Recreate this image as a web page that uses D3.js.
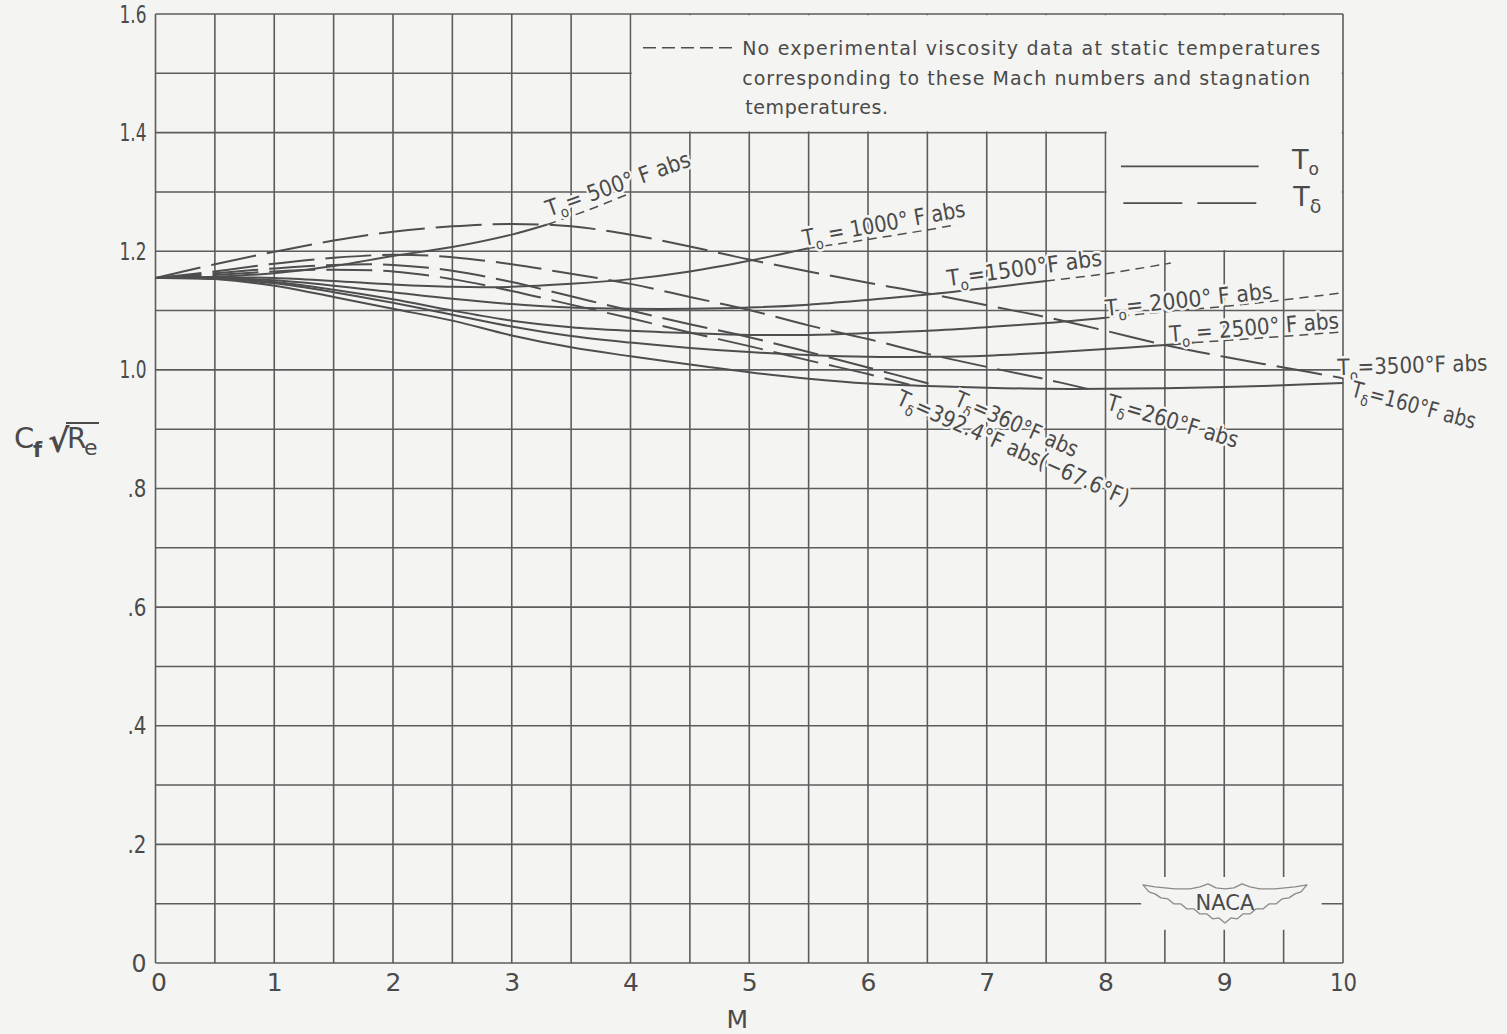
<!DOCTYPE html>
<html><head><meta charset="utf-8">
<script src="https://cdn.jsdelivr.net/npm/d3@7"></script>
<style>
html,body{margin:0;padding:0;background:#f4f4f2;}
svg{display:block;}
text{font-family:"DejaVu Sans",sans-serif;fill:#4a4a4a;}
</style></head><body>
<svg id="chart" width="1507" height="1034"></svg>
<script>
// Axis ticks
const machTicks = [0, 1, 2, 3, 4, 5, 6, 7, 8, 9, 10];
const cfTicks = [0, 0.2, 0.4, 0.6, 0.8, 1.0, 1.2, 1.4, 1.6];
const cfTickLabels = ["0", ".2", ".4", ".6", ".8", "1.0", "1.2", "1.4", "1.6"];

// Constant stagnation temperature T0, [M, Cf*sqrt(Re)] (solid part, then no-data extension)
const to500 = [[0,1.155],[0.5,1.157],[1,1.163],[1.5,1.175],[2,1.192],[2.5,1.207],[3,1.228],[3.3,1.245]];
const to500Ext = [[3.3,1.245],[3.65,1.27],[4.0,1.298]];
const to1000 = [[0,1.155],[0.5,1.156],[1,1.155],[1.5,1.150],[2,1.144],[2.5,1.140],[3,1.140],[3.5,1.145],[4,1.153],[4.5,1.166],[5,1.184],[5.5,1.205]];
const to1000Ext = [[5.5,1.205],[6,1.220],[6.5,1.236],[6.75,1.245]];
const to1500 = [[0,1.155],[0.5,1.155],[1,1.151],[1.5,1.142],[2,1.131],[2.5,1.120],[3,1.111],[3.5,1.105],[4,1.103],[4.5,1.103],[5,1.105],[5.5,1.110],[6,1.118],[6.5,1.127],[7,1.138],[7.5,1.150]];
const to1500Ext = [[7.5,1.150],[8,1.162],[8.55,1.180]];
const to2000 = [[0,1.155],[0.5,1.154],[1,1.148],[1.5,1.135],[2,1.119],[2.5,1.100],[3,1.083],[3.5,1.072],[4,1.066],[4.5,1.062],[5,1.059],[5.5,1.059],[6,1.062],[6.5,1.066],[7,1.072],[7.5,1.079],[8,1.088]];
const to2000Ext = [[8,1.088],[8.5,1.098],[9,1.107],[9.5,1.118],[10,1.130]];
const to2500 = [[0,1.155],[0.5,1.154],[1,1.146],[1.5,1.131],[2,1.113],[2.5,1.093],[3,1.073],[3.5,1.057],[4,1.046],[4.5,1.037],[5,1.030],[5.5,1.025],[6,1.022],[6.5,1.022],[7,1.024],[7.5,1.029],[8,1.035],[8.5,1.042],[8.75,1.046]];
const to2500Ext = [[8.75,1.046],[9.25,1.053],[10,1.064]];
const to3500 = [[0,1.155],[0.5,1.153],[1,1.142],[1.5,1.123],[2,1.103],[2.5,1.083],[3,1.058],[3.5,1.038],[4,1.023],[4.5,1.009],[5,0.996],[5.5,0.985],[6,0.977],[6.5,0.973],[7,0.970],[7.5,0.968],[8,0.968],[8.5,0.969],[9,0.971],[9.5,0.974],[10,0.978]];

// Constant static temperature T-delta, [M, Cf*sqrt(Re)]
const td160 = [[0,1.155],[0.5,1.178],[1,1.199],[1.5,1.218],[2,1.233],[2.5,1.242],[3,1.246],[3.5,1.242],[4,1.228],[4.5,1.208],[5,1.186],[5.5,1.166],[6,1.147],[6.5,1.129],[7,1.109],[7.5,1.089],[8,1.066],[8.5,1.042],[9,1.022],[9.5,1.004],[10,0.986]];
const td260 = [[0,1.155],[0.5,1.166],[1,1.179],[1.5,1.189],[2,1.194],[2.5,1.190],[3,1.178],[3.5,1.162],[4,1.145],[4.5,1.123],[5,1.101],[5.5,1.075],[6,1.052],[6.5,1.027],[7,1.005],[7.5,0.984],[7.85,0.968]];
const td360 = [[0,1.155],[0.5,1.163],[1,1.171],[1.5,1.177],[2,1.177],[2.5,1.167],[3,1.148],[3.5,1.124],[4,1.100],[4.5,1.077],[5,1.055],[5.5,1.030],[6,1.004],[6.55,0.975]];
const td392 = [[0,1.155],[0.5,1.160],[1,1.166],[1.5,1.169],[2,1.166],[2.5,1.153],[3,1.133],[3.5,1.110],[4,1.087],[4.5,1.063],[5,1.040],[5.5,1.016],[6,0.993],[6.35,0.975]];

// Curve labels ("_x" marks a subscript character)
const labelTexts = ["T_o= 500° F abs", "T_o = 1000° F abs", "T_o=1500°F abs", "T_o= 2000° F abs",
  "T_o = 2500° F abs", "T_o=3500°F abs", "T_δ=160°F abs", "T_δ=260°F abs", "T_δ=360°F abs",
  "T_δ=392.4°F abs(−67.6°F)"];
const noteLines = ["No experimental viscosity data at static temperatures",
  "corresponding to these  Mach numbers and stagnation",
  "temperatures."];

// ---------------------------------------------------------------
const W = 1507, H = 1034;
const bg = "#f4f4f2", ink = "#4e4e4e", gridInk = "#5c5c5c";
const svg = d3.select("#chart");
svg.append("rect").attr("width", W).attr("height", H).attr("fill", bg);

const x = d3.scaleLinear().domain([0, 10]).range([155.5, 1343]);
const y = d3.scaleLinear().domain([0, 1.6]).range([963, 14]);

// grid: every 0.5 in M, every 0.1 in Cf*sqrt(Re)
const gxv = d3.range(0, 20.5, 1).map(i => i / 2);
const gyv = d3.range(0, 17, 1).map(i => i / 10);
const grid = svg.append("g").attr("stroke", gridInk).attr("stroke-width", 1.6);
grid.selectAll("line.v").data(gxv).join("line").attr("class", "v")
  .attr("x1", d => x(d)).attr("x2", d => x(d)).attr("y1", y(0)).attr("y2", y(1.6));
grid.selectAll("line.h").data(gyv).join("line").attr("class", "h")
  .attr("x1", x(0)).attr("x2", x(10)).attr("y1", d => y(d)).attr("y2", d => y(d));

// open panels for the note, the legend and the emblem
const blank = svg.append("g").attr("fill", bg);
const inset = 1.2;
function blankRect(m0, m1, v0, v1, pad) {
  blank.append("rect").attr("x", x(m0) + pad).attr("y", y(v1) + pad)
    .attr("width", x(m1) - x(m0) - 2 * pad).attr("height", y(v0) - y(v1) - 2 * pad);
}
blankRect(4, 10, 1.4, 1.6, inset);
blankRect(8, 10, 1.2, 1.405, inset);
blankRect(8.3, 9.82, 0.056, 0.145, 0);

// axes
const yAxis = d3.axisLeft(y).tickValues(cfTicks).tickFormat((d, i) => cfTickLabels[i]).tickSize(0).tickPadding(9);
const gy = svg.append("g").attr("transform", `translate(${x(0)},0)`).call(yAxis);
gy.select(".domain").remove();
gy.selectAll("text").attr("font-size", 25).attr("fill", "#4a4a4a").attr("font-family", "DejaVu Sans")
  .attr("textLength", (d, i) => cfTickLabels[i].length === 1 ? 15 : cfTickLabels[i].length === 2 ? 19 : 27)
  .attr("lengthAdjust", "spacingAndGlyphs");

const xAxis = d3.axisBottom(x).tickValues(machTicks).tickFormat(d3.format("d")).tickSize(0).tickPadding(10);
const gxA = svg.append("g").attr("transform", `translate(0,${y(0)})`).call(xAxis);
gxA.select(".domain").remove();
gxA.selectAll("text").attr("font-size", 25).attr("fill", "#4a4a4a").attr("font-family", "DejaVu Sans");
gxA.selectAll(".tick").filter(d => d === 10).select("text")
  .attr("textLength", 27).attr("lengthAdjust", "spacingAndGlyphs");
gxA.selectAll(".tick").filter(d => d === 0).select("text").attr("dx", 3);

svg.append("text").attr("x", x(4.9)).attr("y", 1028).attr("text-anchor", "middle")
  .attr("font-size", 25).text("M");

// y-axis title: C_f sqrt(R_e)
const yt = svg.append("g");
yt.append("text").attr("x", 14).attr("y", 448).attr("font-size", 29).text("C");
yt.append("text").attr("x", 33).attr("y", 457).attr("font-size", 21).attr("font-weight", "bold").text("f");
yt.append("text").attr("x", 48).attr("y", 452).attr("font-size", 32).attr("font-weight", "bold").text("√");
yt.append("line").attr("x1", 66).attr("x2", 99).attr("y1", 423).attr("y2", 423)
  .attr("stroke", "#4a4a4a").attr("stroke-width", 2);
yt.append("text").attr("x", 67).attr("y", 448).attr("font-size", 28).text("R");
yt.append("text").attr("x", 84).attr("y", 455).attr("font-size", 22).text("e");

// curves
const line = d3.line().x(d => x(d[0])).y(d => y(d[1])).curve(d3.curveCatmullRom.alpha(0.5));
const curveG = svg.append("g").attr("fill", "none").attr("stroke", ink).attr("stroke-linecap", "butt");
const solidSets = [to500, to1000, to1500, to2000, to2500, to3500];
const extSets = [to500Ext, to1000Ext, to1500Ext, to2000Ext, to2500Ext];
const deltaSets = [td160, td260, td360, td392];
curveG.selectAll("path.to").data(solidSets).join("path").attr("class", "to")
  .attr("d", line).attr("stroke-width", 2);
curveG.selectAll("path.ext").data(extSets).join("path").attr("class", "ext")
  .attr("d", line).attr("stroke-width", 1.5).attr("stroke-dasharray", "9,6");
curveG.selectAll("path.td").data(deltaSets).join("path").attr("class", "td")
  .attr("d", line).attr("stroke-width", 2).attr("stroke-dasharray", "46,11");

// curve labels: anchor [M, value], rotation, text length
const labelPlacement = [
  [3.314, 1.258, -19.7, 152], [5.461, 1.209, -10.4, 165], [6.674, 1.141, -7.7, 156],
  [8.004, 1.091, -6.0, 168], [8.543, 1.047, -4.7, 170], [9.955, 0.991, -1.8, 150],
  [10.058, 0.956, 15.0, 128], [8.0, 0.934, 16.6, 136], [6.716, 0.941, 23.5, 132],
  [6.227, 0.943, 24.0, 252]
];
function richText(sel, str, subSize, drop) {
  const parts = str.split(/_(.)/);
  parts.forEach((p, i) => {
    if (!p) return;
    if (i % 2 === 1) {
      sel.append("tspan").attr("font-size", subSize).attr("dy", drop).text(p);
    } else {
      const t = sel.append("tspan").text(p);
      if (i > 0) t.attr("dy", -drop);
    }
  });
}
const labG = svg.append("g");
labelTexts.forEach((s, i) => {
  const [m, v, a, len] = labelPlacement[i];
  const t = labG.append("text")
    .attr("transform", `translate(${x(m)},${y(v)}) rotate(${a})`)
    .attr("font-size", 22.5).attr("textLength", len).attr("lengthAdjust", "spacingAndGlyphs")
    .attr("stroke", bg).attr("stroke-width", 5).attr("stroke-linejoin", "round")
    .style("paint-order", "stroke");
  richText(t, s, 15, 6);
});

// note on the no-data extensions
const note = svg.append("g");
note.append("line").attr("x1", x(4.105)).attr("x2", x(4.905)).attr("y1", y(1.543)).attr("y2", y(1.543))
  .attr("stroke", ink).attr("stroke-width", 1.4).attr("stroke-dasharray", "13,6");
const noteLen = [578, 568, 143];
noteLines.forEach((s, i) => {
  note.append("text").attr("x", x(4.94) + (i === 2 ? 3 : 0)).attr("y", y(1.531 - i * 0.05))
    .attr("font-size", 19).attr("textLength", noteLen[i]).attr("lengthAdjust", "spacing")
    .text(s);
});

// legend
const leg = svg.append("g");
leg.append("line").attr("x1", x(8.13)).attr("x2", x(9.29)).attr("y1", y(1.343)).attr("y2", y(1.343))
  .attr("stroke", ink).attr("stroke-width", 1.8);
leg.append("line").attr("x1", x(8.15)).attr("x2", x(9.27)).attr("y1", y(1.281)).attr("y2", y(1.281))
  .attr("stroke", ink).attr("stroke-width", 1.8).attr("stroke-dasharray", "59,15");
const l1 = leg.append("text").attr("x", x(9.57)).attr("y", y(1.338)).attr("font-size", 27);
richText(l1, "T_o", 17, 6);
const l2 = leg.append("text").attr("x", x(9.58)).attr("y", y(1.276)).attr("font-size", 27);
richText(l2, "T_δ", 19, 7);

// NACA emblem
const emb = svg.append("g").attr("transform", `translate(${x(9.006)},${y(0.103)})`);
const topHalf = [[-82,-17],[-70,-15],[-50,-13],[-35,-13],[-25,-15],[-17,-18],[-9,-14],[0,-13]];
const lowHalf = [[0,21],[-6,16],[-12,17],[-18,12],[-25,12],[-31,7],[-38,7],[-44,2],[-51,2],[-57,-3],[-64,-4],[-70,-8],[-76,-10],[-82,-17]];
const outline = topHalf.concat(topHalf.slice().reverse().map(p => [-p[0], p[1]]))
  .concat(lowHalf.slice().reverse().map(p => [-p[0], p[1]])).concat(lowHalf);
emb.append("path").attr("d", d3.line().curve(d3.curveLinearClosed)(outline))
  .attr("fill", "none").attr("stroke", "#8a8a8a").attr("stroke-width", 1.3).attr("stroke-linejoin", "round");
emb.append("text").attr("text-anchor", "middle").attr("y", 8).attr("font-size", 21)
  .attr("fill", "#666").text("NACA");
</script>
</body></html>
